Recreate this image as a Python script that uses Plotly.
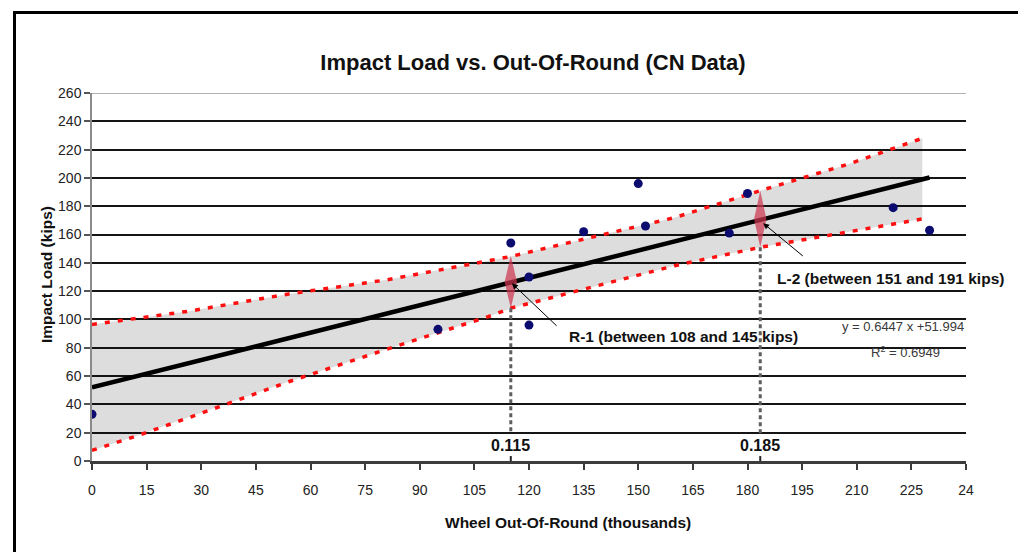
import plotly.graph_objects as go

# ---------------- data ----------------
oor_x = [0, 95, 115, 120, 120, 135, 150, 152, 175, 180, 220, 230]
load_y = [33, 93, 154, 130, 96, 162, 196, 166, 161, 189, 179, 163]

slope = 0.6447
intercept = 51.994
trend_x = [0, 230]

band_x = [0, 12, 27, 54, 81, 110, 115, 160, 183.5, 208, 228]
band_upper = [96.5, 100.5, 106, 118, 128, 142, 144.5, 172, 191, 210, 228]
band_lower = [7.5, 17.5, 31, 56, 79, 103, 108, 138, 151, 162, 171]

# marked cases
case_x = [115, 183.5]
case_lo = [108, 151]
case_hi = [145, 191]
case_tick_label = ["0.115", "0.185"]
case_text = ["R-1 (between 108 and 145 kips)", "L-2 (between 151 and 191 kips)"]

x_ticks = [0, 15, 30, 45, 60, 75, 90, 105, 120, 135, 150, 165, 180, 195, 210, 225, 240]
x_tick_text = ["0", "15", "30", "45", "60", "75", "90", "105", "120", "135", "150",
               "165", "180", "195", "210", "225", "24"]
y_ticks = list(range(0, 261, 20))

eq_text = "y = 0.6447 x +51.994"
r2_text = "R<sup>2</sup> = 0.6949"

# ---------------- figure ----------------
SANS = "Liberation Sans, Arial, sans-serif"

# page body has an 8px margin: plot area in page pixels is x 92..966, y 93..461
OFF = 8
ML, MR, MT, MB = 92 - OFF, 60, 93 - OFF, 91
W, H = 1026 - OFF, 552 - OFF
PW, PH = 874, 368


def px(p):
    return (p - 92) / PW


def py(p):
    return (461 - p) / PH


fig = go.Figure()

# grey prediction band
fig.add_trace(go.Scatter(
    x=band_x + band_x[::-1], y=band_upper + band_lower[::-1],
    fill="toself", fillcolor="rgba(0,0,0,0.135)", line=dict(width=0),
    mode="lines", hoverinfo="skip", showlegend=False))

# dotted red band edges
for yy in (band_upper, band_lower):
    fig.add_trace(go.Scatter(
        x=band_x, y=yy, mode="lines",
        line=dict(color="#ff1010", width=3.5, dash="5px,8px"),
        showlegend=False))

# vertical dashed markers + small ticks
for cx, lo in zip(case_x, case_lo):
    fig.add_trace(go.Scatter(
        x=[cx, cx], y=[lo, 19], mode="lines",
        line=dict(color="#5e5e5e", width=3, dash="4px,3px"), showlegend=False))
    fig.add_trace(go.Scatter(
        x=[cx, cx], y=[0, 3.5], mode="lines",
        line=dict(color="#222", width=2), showlegend=False))

# trend line
fig.add_trace(go.Scatter(
    x=trend_x, y=[slope * v + intercept for v in trend_x], mode="lines",
    line=dict(color="black", width=4.5), showlegend=False))

# data points
fig.add_trace(go.Scatter(
    x=oor_x, y=load_y, mode="markers",
    marker=dict(symbol="circle", size=9, color="#0b0b70"), showlegend=False))

# diamonds
half_w = 1.7
for cx, lo, hi in zip(case_x, case_lo, case_hi):
    mid = (lo + hi) / 2
    fig.add_trace(go.Scatter(
        x=[cx, cx + half_w, cx, cx - half_w, cx],
        y=[lo, mid, hi, mid, lo], mode="lines", fill="toself",
        fillcolor="rgba(205,55,80,0.72)", line=dict(width=0),
        showlegend=False))

annotations = []
# case tick labels
for cx, lab in zip(case_x, case_tick_label):
    annotations.append(dict(x=cx, y=11, xref="x", yref="y", text="<b>%s</b>" % lab,
                            xanchor="center", yanchor="middle",
                            showarrow=False, font=dict(family=SANS, size=16, color="#111")))
# arrows to diamonds
annotations.append(dict(x=115.3, y=125.5, ax=128, ay=94.5, xref="x", yref="y",
                        axref="x", ayref="y", text="", showarrow=True,
                        arrowhead=2, arrowsize=1.2, arrowwidth=1, arrowcolor="black"))
annotations.append(dict(x=184.3, y=168, ax=195.6, ay=144, xref="x", yref="y",
                        axref="x", ayref="y", text="", showarrow=True,
                        arrowhead=2, arrowsize=1.2, arrowwidth=1, arrowcolor="black"))
annotations.append(dict(x=130.5, y=87.8, xref="x", yref="y", xanchor="left", yanchor="middle",
                        text="<b>%s</b>" % case_text[0], showarrow=False,
                        font=dict(family=SANS, size=15.5, color="#111")))
annotations.append(dict(x=187.6, y=128.8, xref="x", yref="y", xanchor="left", yanchor="middle",
                        text="<b>%s</b>" % case_text[1], showarrow=False,
                        font=dict(family=SANS, size=15.5, color="#111")))
# equation
annotations.append(dict(x=240, y=95, xref="x", yref="y", xanchor="right", yanchor="middle",
                        text=eq_text, showarrow=False,
                        font=dict(family=SANS, size=13, color="#3a3a3a")))
annotations.append(dict(x=223.5, y=77, xref="x", yref="y", xanchor="center", yanchor="middle",
                        text=r2_text, showarrow=False,
                        font=dict(family=SANS, size=13, color="#3a3a3a")))
# axis titles
annotations.append(dict(x=px(568), y=py(522), xref="paper", yref="paper",
                        xanchor="center", yanchor="middle",
                        text="<b>Wheel Out-Of-Round (thousands)</b>", showarrow=False,
                        font=dict(family=SANS, size=15.5, color="#111")))
annotations.append(dict(x=px(46), y=py(275), xref="paper", yref="paper",
                        xanchor="center", yanchor="middle",
                        text="<b>Impact Load (kips)</b>", textangle=-90, showarrow=False,
                        font=dict(family=SANS, size=15.5, color="#111")))

shapes = [
    # outer frame
    dict(type="rect", xref="paper", yref="paper",
         x0=px(14.5), x1=px(1021.5), y0=-0.4, y1=py(12.5),
         line=dict(color="black", width=3), layer="above"),
    # top grey gridline
    dict(type="line", xref="paper", yref="y", x0=0, x1=1, y0=260, y1=260,
         line=dict(color="#9a9a9a", width=1.5), layer="below"),
]

fig.update_layout(
    width=W, height=H,
    margin=dict(l=ML, r=MR, t=MT, b=MB, autoexpand=False),
    paper_bgcolor="white", plot_bgcolor="white",
    title=dict(text="<b>Impact Load vs. Out-Of-Round (CN Data)</b>",
               x=(533 - OFF) / W, y=1 - (62 - OFF) / H, xref="container", yref="container",
               xanchor="center", yanchor="middle",
               font=dict(family=SANS, size=22, color="#111")),
    annotations=annotations, shapes=shapes, showlegend=False,
    xaxis=dict(range=[0, 240], tickvals=x_ticks, ticktext=x_tick_text,
               showgrid=False, zeroline=False, showline=True,
               linecolor="#3c3c3c", linewidth=2.5,
               ticks="outside", ticklen=6, tickwidth=1.5, tickcolor="#3c3c3c",
               ticklabelstandoff=8,
               tickfont=dict(family=SANS, size=14, color="#222")),
    yaxis=dict(range=[0, 260], tickvals=y_ticks,
               showgrid=True, gridcolor="#151515", gridwidth=1.6,
               zeroline=False, showline=True, linecolor="#8a8a8a", linewidth=1.5,
               ticks="outside", ticklen=6, tickwidth=1.5, tickcolor="#555",
               tickfont=dict(family=SANS, size=14, color="#222")),
)

fig.write_html("out.html")
